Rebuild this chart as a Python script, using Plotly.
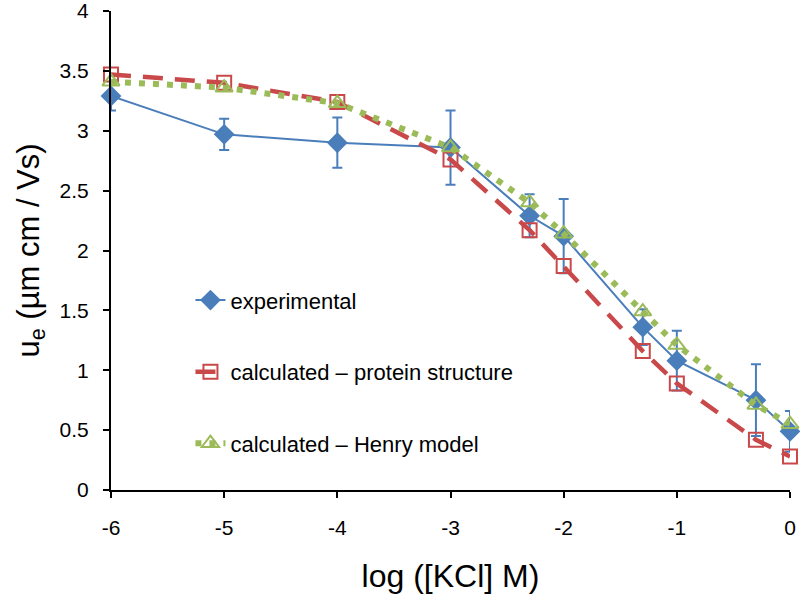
import plotly.graph_objects as go

log_kcl = [-6, -5, -4, -3, -2.301, -2, -1.301, -1, -0.301, 0]
experimental = [3.29, 2.97, 2.90, 2.86, 2.29, 2.12, 1.36, 1.08, 0.75, 0.49]
experimental_err = [0.12, 0.13, 0.21, 0.31, 0.18, 0.31, 0.15, 0.25, 0.30, 0.17]
protein_structure = [3.47, 3.40, 3.24, 2.76, 2.17, 1.87, 1.16, 0.89, 0.42, 0.28]
henry_model = [3.41, 3.36, 3.23, 2.86, 2.40, 2.14, 1.49, 1.21, 0.71, 0.55]

x_ticks = [-6, -5, -4, -3, -2, -1, 0]
x_tick_labels = ["-6", "-5", "-4", "-3", "-2", "-1", "0"]
y_ticks = [0, 0.5, 1, 1.5, 2, 2.5, 3, 3.5, 4]
y_tick_labels = ["0", "0.5", "1", "1.5", "2", "2.5", "3", "3.5", "4"]

blue = "#4a7ebb"
red = "#c9484a"
green = "#9bbb59"

fig = go.Figure()
fig.add_trace(go.Scatter(
    x=log_kcl, y=experimental, name="experimental", mode="lines+markers",
    line=dict(color=blue, width=2),
    marker=dict(symbol="diamond", size=16, color=blue),
    error_y=dict(type="data", array=experimental_err, color=blue, thickness=2, width=5),
    cliponaxis=False, legendgroup="a"))
fig.add_trace(go.Scatter(
    x=log_kcl, y=protein_structure, name="calculated – protein structure", mode="lines+markers",
    line=dict(color=red, width=4.5, dash="20px,12px"),
    marker=dict(symbol="square-open", size=14, color=red, line=dict(width=2)),
    cliponaxis=False, legendgroup="b"))
fig.add_trace(go.Scatter(
    x=log_kcl, y=henry_model, name="calculated – Henry model", mode="lines+markers",
    line=dict(color=green, width=6, dash="6px,8px"),
    marker=dict(symbol="triangle-up-open", size=15, color=green, line=dict(width=2)),
    cliponaxis=False, legendgroup="c"))

fig.update_layout(
    width=800, height=606,
    margin=dict(l=111, r=10, t=11, b=116),
    paper_bgcolor="white", plot_bgcolor="white",
    font=dict(family="Liberation Sans, Arial", size=21, color="black"),
    legend=dict(x=0.117, y=0.44, xanchor="left", yanchor="top",
                tracegroupgap=40, traceorder="grouped",
                font=dict(size=22), bgcolor="rgba(0,0,0,0)"),
    xaxis=dict(range=[-6, 0], tickvals=x_ticks, ticktext=x_tick_labels,
               showline=True, linecolor="black", linewidth=2,
               ticks="outside", ticklen=6, tickwidth=2, tickcolor="black", showgrid=False,
               zeroline=False, automargin=False, ticklabelstandoff=12,
               ticklabeloverflow="allow",
               title=dict(text="log ([KCl] M)", font=dict(size=32), standoff=26)),
    yaxis=dict(range=[0, 4], tickvals=y_ticks, ticktext=y_tick_labels,
               showline=True, linecolor="black", linewidth=2,
               ticks="outside", ticklen=6, tickwidth=2, tickcolor="black", showgrid=False,
               zeroline=False, automargin=False, ticklabelstandoff=10,
               ticklabeloverflow="allow",
               title=dict(text="u<sub>e</sub> (µm cm / Vs)", font=dict(size=31), standoff=11)),
)

fig.write_html("out.html", config={"displayModeBar": False},
               post_script="document.body.style.margin='0';document.body.style.overflow='hidden';")
